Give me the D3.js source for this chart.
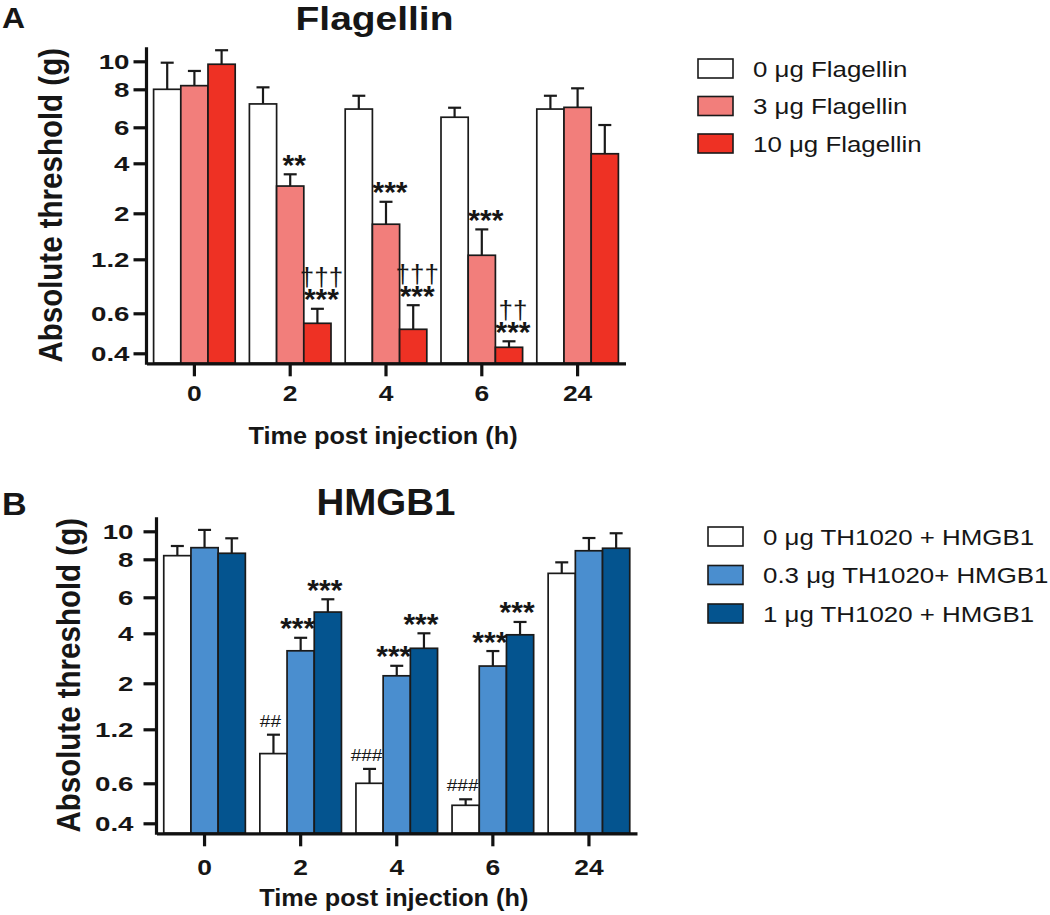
<!DOCTYPE html>
<html><head><meta charset="utf-8">
<script src="https://cdn.jsdelivr.net/npm/d3@7"></script>
<style>
body{margin:0;background:#fff}
svg{display:block}
text{font-family:"Liberation Sans",Arial,Helvetica,sans-serif;fill:#161616}
</style>
</head><body>
<svg id="chart" width="1050" height="915"></svg>
<script>
// ---------- data ----------
const timeGroups = ["0", "2", "4", "6", "24"];
const yTickValues = [0.4, 0.6, 1.2, 2, 4, 6, 8, 10];
// von Frey filament evaluator size for each labelled force (g)
const yTickLevels = [3.61, 3.81, 4.08, 4.31, 4.56, 4.74, 4.93, 5.07];

// Panel A: Flagellin
const flagSeries = ["0 μg Flagellin", "3 μg Flagellin", "10 μg Flagellin"];
const flag0Mean = [8.0, 7.23, 6.96, 6.53, 6.96];
const flag0Sem  = [1.9, 0.91, 0.70, 0.50, 0.70];
const flag3Mean = [8.26, 3.09, 1.81, 1.27, 7.05];
const flag3Sem  = [1.05, 0.47, 0.65, 0.45, 1.02];
const flag10Mean = [9.79, 0.55, 0.52, 0.43, 4.53];
const flag10Sem  = [1.0, 0.10, 0.17, 0.03, 1.59];
const flagStars = [
  {time: "2", series: 1, text: "**"}, {time: "4", series: 1, text: "***"}, {time: "6", series: 1, text: "***"},
  {time: "2", series: 2, text: "***"}, {time: "4", series: 2, text: "***"}, {time: "6", series: 2, text: "***"}
];
const flagDaggers = [
  {time: "2", series: 2, text: "†††"}, {time: "4", series: 2, text: "†††"}, {time: "6", series: 2, text: "††"}
];

// Panel B: HMGB1
const hmgbSeries = ["0 μg TH1020 + HMGB1", "0.3 μg TH1020+ HMGB1", "1 μg TH1020 + HMGB1"];
const hmgb0Mean = [8.26, 0.93, 0.60, 0.49, 7.26];
const hmgb0Sem  = [0.69, 0.21, 0.16, 0.03, 0.58];
const hmgb03Mean = [8.83, 3.30, 2.30, 2.69, 8.61];
const hmgb03Sem  = [1.27, 0.52, 0.40, 0.60, 0.91];
const hmgb1Mean = [8.43, 5.18, 3.40, 3.94, 8.79];
const hmgb1Sem  = [1.07, 0.71, 0.60, 0.69, 1.07];
const hmgbStars = [
  {time: "2", series: 1, text: "***"}, {time: "4", series: 1, text: "***"}, {time: "6", series: 1, text: "***"},
  {time: "2", series: 2, text: "***"}, {time: "4", series: 2, text: "***"}, {time: "6", series: 2, text: "***"}
];
const hmgbHashes = [
  {time: "2", series: 0, text: "##"}, {time: "4", series: 0, text: "###"}, {time: "6", series: 0, text: "###"}
];

// ---------- drawing ----------
const svg = d3.select("#chart");

function stretchedText(g, x, y, str, size, weight, anchor, sx) {
  return g.append("text")
    .attr("transform", `translate(${x},${y}) scale(${sx},1)`)
    .attr("text-anchor", anchor || "start")
    .style("font-size", size + "px")
    .style("font-weight", weight || "normal")
    .text(str);
}

function drawPanel(cfg) {
  const g = svg.append("g");
  const levelScale = d3.scaleLinear().domain([3.56, 5.14]).range([cfg.bottom, cfg.bottom - 316]);
  const y = d3.scaleLinear().domain(yTickValues).range(yTickLevels.map(l => levelScale(l)));
  const x0 = d3.scaleBand().domain(timeGroups).range([cfg.left, cfg.right]).padding(0);
  const x1 = d3.scaleBand().domain(d3.range(cfg.series.length))
    .range([x0.bandwidth() / 2 - 40.8, x0.bandwidth() / 2 + 40.8]).padding(0);

  const rows = [];
  cfg.means.forEach((arr, si) => arr.forEach((m, gi) => {
    rows.push({time: timeGroups[gi], series: si, mean: m, sem: cfg.sems[si][gi]});
  }));
  const barCx = d => x0(d.time) + x1(d.series) + x1.bandwidth() / 2;
  const errTop = d => y(d.mean + d.sem);

  // error bars
  const eb = g.append("g").attr("stroke", "#1a1a1a").attr("stroke-width", 2.2);
  eb.selectAll("line.stem").data(rows).join("line").attr("class", "stem")
    .attr("x1", barCx).attr("x2", barCx)
    .attr("y1", d => y(d.mean)).attr("y2", errTop);
  eb.selectAll("line.cap").data(rows).join("line").attr("class", "cap")
    .attr("x1", d => barCx(d) - 6.5).attr("x2", d => barCx(d) + 6.5)
    .attr("y1", errTop).attr("y2", errTop);

  // bars
  g.append("g").selectAll("rect").data(rows).join("rect")
    .attr("x", d => x0(d.time) + x1(d.series))
    .attr("width", x1.bandwidth())
    .attr("y", d => y(d.mean))
    .attr("height", d => cfg.bottom - y(d.mean))
    .attr("fill", d => cfg.colors[d.series])
    .attr("stroke", "#1a1a1a").attr("stroke-width", 1.7);

  // y axis
  const ya = g.append("g").attr("transform", `translate(${cfg.left},0)`)
    .call(d3.axisLeft(y).tickValues(yTickValues).tickFormat(d => d).tickSize(13).tickSizeOuter(0));
  ya.select(".domain").remove();
  ya.selectAll(".tick line").attr("stroke", "#111").attr("stroke-width", 3.2);
  ya.selectAll(".tick text").attr("x", null).attr("dy", null)
    .attr("transform", `translate(${cfg.yLabelGap},7.5) scale(1.32,1)`)
    .style("font-size", "21px").style("font-weight", "bold").attr("fill", "#161616");
  g.append("line").attr("x1", cfg.left).attr("x2", cfg.left)
    .attr("y1", cfg.bottom - 316).attr("y2", cfg.bottom + 1.5)
    .attr("stroke", "#111").attr("stroke-width", 3.2);

  // x axis
  const xa = g.append("g").attr("transform", `translate(0,${cfg.bottom})`)
    .call(d3.axisBottom(x0).tickSize(13).tickSizeOuter(0));
  xa.select(".domain").attr("stroke", "#111").attr("stroke-width", 3.2);
  xa.selectAll(".tick line").attr("stroke", "#111").attr("stroke-width", 3.2);
  xa.selectAll(".tick text").attr("y", null).attr("dy", null)
    .attr("transform", `translate(0,${cfg.xTickBase}) scale(1.2,1)`)
    .style("font-size", "22px").style("font-weight", "bold").attr("fill", "#161616");

  // significance marks (daggers stacked above stars in one text block)
  const annX = d => x0(d.time) + x1(d.series) + x1.bandwidth() / 2 + cfg.annDx;
  const findRow = d => rows.find(r => r.time === d.time && r.series === d.series);
  cfg.stars.forEach(d => {
    const t = g.append("text")
      .attr("transform", `translate(${annX(d)},${errTop(findRow(d)) + 0.5})`)
      .attr("text-anchor", "middle");
    const dag = (cfg.daggers || []).find(a => a.time === d.time && a.series === d.series);
    if (dag) {
      t.append("tspan").attr("x", 0).attr("y", -23)
        .style("font-size", "26px").style("font-weight", "normal").text(dag.text);
    }
    t.append("tspan").attr("x", 0).attr("y", 0)
      .style("font-size", "30px").style("font-weight", "bold").text(d.text);
  });
  (cfg.hashes || []).forEach(d => {
    stretchedText(g, annX(d), errTop(findRow(d)) - 8, d.text, 17, "normal", "middle", 1.12);
  });

  // titles and labels
  stretchedText(g, 2, cfg.letterBase, cfg.letter, cfg.letterSize, "bold", "start", 1.1);
  stretchedText(g, cfg.titleX, cfg.titleBase, cfg.title, cfg.titleSize, "bold", "middle", cfg.titleSX);
  stretchedText(g, (cfg.left + cfg.right) / 2 - 3, cfg.xLabelBase, "Time post injection (h)", 23, "bold", "middle", 1.1);
  g.append("text")
    .attr("transform", `translate(${cfg.yLabelX},${cfg.bottom - 158}) scale(1.12,1) rotate(-90)`)
    .attr("text-anchor", "middle")
    .style("font-size", "29.5px").style("font-weight", "bold")
    .text("Absolute threshold (g)");

  // legend
  const lg = g.append("g").attr("transform", `translate(${cfg.legX},${cfg.legY})`);
  cfg.series.forEach((s, i) => {
    const row = lg.append("g").attr("transform", `translate(0,${i * cfg.legStep})`);
    row.append("rect").attr("width", 35).attr("height", 19)
      .attr("fill", cfg.colors[i]).attr("stroke", "#1a1a1a").attr("stroke-width", 1.6);
    stretchedText(row, 55, 17.5, s, 22.5, "normal", "start", 1.15);
  });
}

drawPanel({
  left: 146.5, right: 625.5, bottom: 363.3,
  series: flagSeries,
  means: [flag0Mean, flag3Mean, flag10Mean],
  sems: [flag0Sem, flag3Sem, flag10Sem],
  colors: ["#ffffff", "#f27e7b", "#ee3124"],
  stars: flagStars, daggers: flagDaggers, annDx: 4,
  yLabelGap: -17, xTickBase: 37.5,
  letter: "A", letterBase: 28, letterSize: 29,
  title: "Flagellin", titleX: 374.5, titleBase: 30, titleSize: 33, titleSX: 1.18,
  xLabelBase: 444, yLabelX: 62,
  legX: 698, legY: 59, legStep: 37.5
});

drawPanel({
  left: 156.5, right: 637, bottom: 833.3,
  series: hmgbSeries,
  means: [hmgb0Mean, hmgb03Mean, hmgb1Mean],
  sems: [hmgb0Sem, hmgb03Sem, hmgb1Sem],
  colors: ["#ffffff", "#4a8ecf", "#04548f"],
  stars: hmgbStars, hashes: hmgbHashes, annDx: -3,
  yLabelGap: -23, xTickBase: 41.5,
  letter: "B", letterBase: 515, letterSize: 31,
  title: "HMGB1", titleX: 386, titleBase: 515, titleSize: 37, titleSX: 1.04,
  xLabelBase: 906, yLabelX: 80,
  legX: 708, legY: 527, legStep: 38.5
});
</script>
</body></html>
